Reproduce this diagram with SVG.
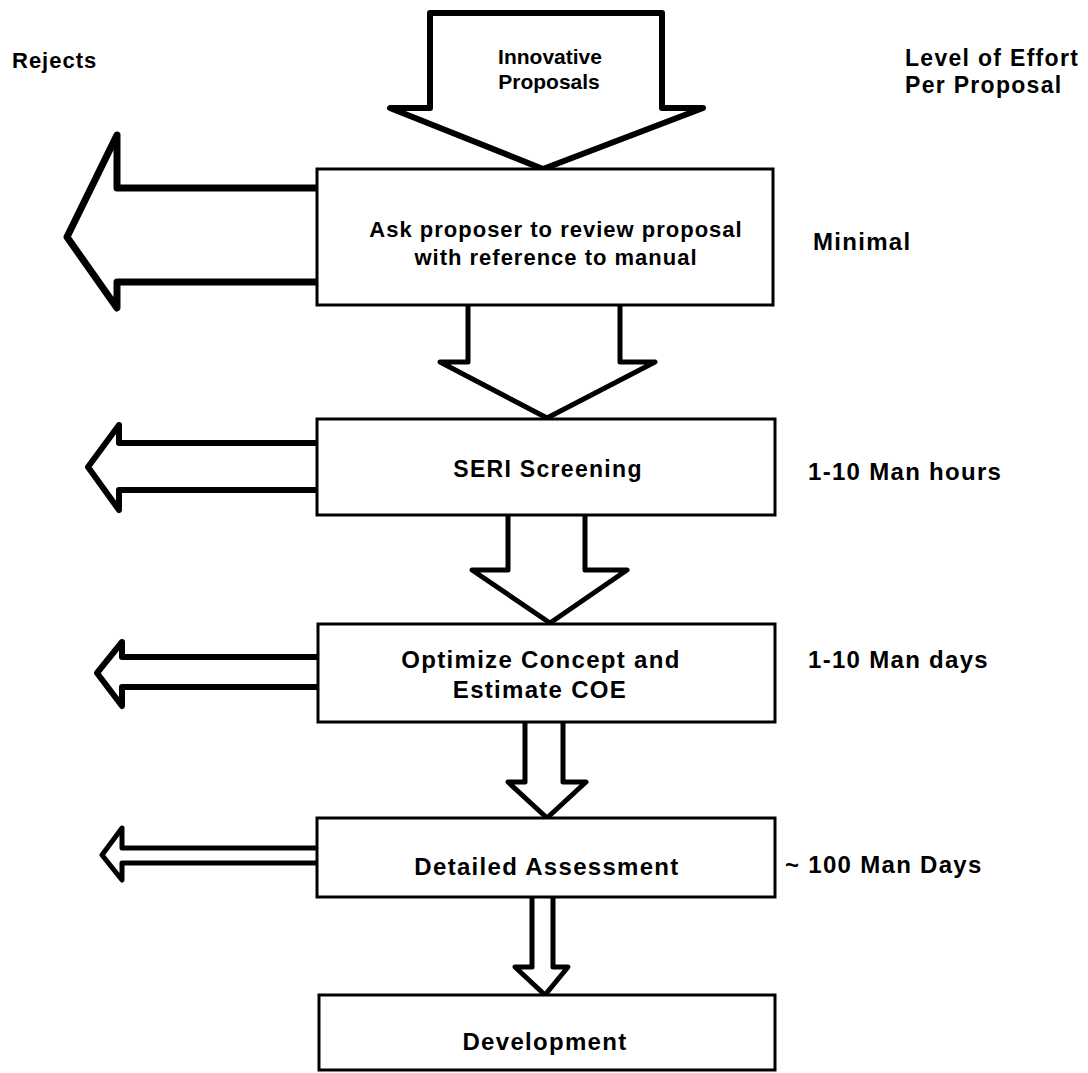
<svg xmlns="http://www.w3.org/2000/svg" width="1088" height="1073" viewBox="0 0 1088 1073">
<style>
text{font-family:"Liberation Sans",Arial,sans-serif;font-weight:bold;font-size:24px;letter-spacing:1.3px;fill:#000}
.c{text-anchor:middle}
.h{font-size:23px}
.s{font-size:21px;letter-spacing:0px}
.m{font-size:22px;letter-spacing:1px}
.box{fill:#fff;stroke:#000;stroke-width:3}
.arr{fill:#fff;stroke:#000;stroke-linejoin:round;stroke-linecap:round}
</style>
<rect width="1088" height="1073" fill="#fff"/>
<g id="labels">
<text class="m" x="12" y="68">Rejects</text>
<text class="h" x="905" y="66">Level of Effort</text>
<text class="h" x="905" y="93">Per Proposal</text>
</g>
<g id="connectors">
<path class="arr" stroke-width="6" d="M430,13 L662,13 L662,108 L703,108 L543,169 L390,108 L430,108 Z"/>
<path class="arr" stroke-width="5" d="M468,305 L468,362 L440,362 L547,418 L655,362 L620,362 L620,305"/>
<path class="arr" stroke-width="5" d="M508,515 L508,570 L472,570 L550,623 L627,570 L585,570 L585,515"/>
<path class="arr" stroke-width="5" d="M525,722 L525,782 L508,782 L547,818 L586,782 L563,782 L563,722"/>
<path class="arr" stroke-width="5" d="M532,897 L532,967 L515,967 L545,995 L568,967 L553,967 L553,897"/>
<path class="arr" stroke-width="7" d="M317,188 L117,188 L117,135 L67,237 L117,308 L117,282 L317,282"/>
<path class="arr" stroke-width="6" d="M317,443 L119,443 L119,425 L88,467 L119,510 L119,490 L317,490"/>
<path class="arr" stroke-width="6" d="M317,657 L122,657 L122,642 L97,673 L122,706 L122,687 L317,687"/>
<path class="arr" stroke-width="5" d="M317,848 L122,848 L122,828 L102,855 L122,880 L122,863 L317,863"/>
</g>
<g id="innovative">
<text class="c s" x="550" y="64">Innovative</text>
<text class="c s" x="549" y="89">Proposals</text>
</g>
<g id="node-ask">
<rect class="box" x="317" y="169" width="456" height="136"/>
<text class="c m" x="556" y="237">Ask proposer to review proposal</text>
<text class="c m" x="556" y="265">with reference to manual</text>
<text x="813" y="250">Minimal</text>
</g>
<g id="node-seri">
<rect class="box" x="317" y="419" width="458" height="96"/>
<text class="c h" x="548" y="477">SERI Screening</text>
<text x="808" y="480">1-10 Man hours</text>
</g>
<g id="node-optimize">
<rect class="box" x="318" y="624" width="457" height="98"/>
<text class="c" x="541" y="668">Optimize Concept and</text>
<text class="c" x="540" y="698">Estimate COE</text>
<text x="808" y="668">1-10 Man days</text>
</g>
<g id="node-detailed">
<rect class="box" x="317" y="818" width="458" height="79"/>
<text class="c" x="547" y="875">Detailed Assessment</text>
<text x="785" y="873">~ 100 Man Days</text>
</g>
<g id="node-development">
<rect class="box" x="319" y="995" width="456" height="75"/>
<text class="c" x="545" y="1050">Development</text>
</g>
</svg>
